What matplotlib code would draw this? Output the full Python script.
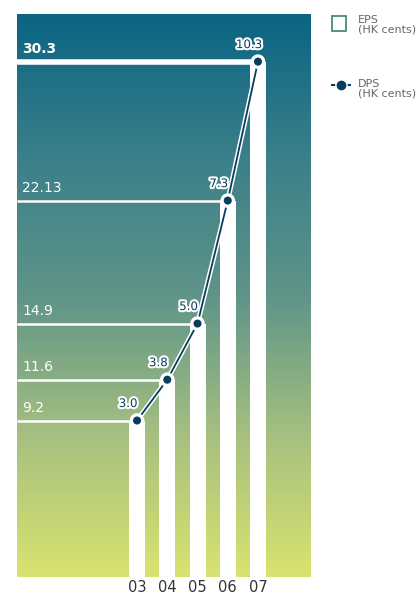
import matplotlib.pyplot as plt
import matplotlib.patheffects as pe
import numpy as np
from matplotlib.colors import LinearSegmentedColormap

years = ["03", "04", "05", "06", "07"]
eps = [9.2, 11.6, 14.9, 22.13, 30.3]
dps = [3.0, 3.8, 5.0, 7.3, 10.3]
eps_labels = ["9.2", "11.6", "14.9", "22.13", "30.3"]
dps_labels = ["3.0", "3.8", "5.0", "7.3", "10.3"]

navy = "#083d5e"
fig = plt.figure(figsize=(4.18, 5.95), dpi=100)
ax = fig.add_axes([17/418, 18/595, 293/418, 563/595])

x = np.arange(len(years))
xlim = (-3.97, 5.72)
ylim = (0, 33.1)

# gradient background
cmap = LinearSegmentedColormap.from_list(
    "bg", ["#d9e36f", "#a6c080", "#5f9488", "#3a7f8a", "#0b6482"])
grad = np.linspace(0, 1, 256).reshape(-1, 1)
ax.imshow(grad, cmap=cmap, origin="lower", aspect="auto",
          extent=[xlim[0], xlim[1], ylim[0], ylim[1]], zorder=0)

# EPS bars + reference lines
ax.bar(x, eps, width=0.53, color="white", zorder=2)
for i, v in enumerate(eps):
    lw = 4 if i == len(eps) - 1 else 1.8
    ax.plot([xlim[0], x[i]], [v, v], color="white", lw=lw,
            solid_capstyle="butt", zorder=2)
    ax.text(xlim[0] + 0.17, v + 0.35, eps_labels[i], color="white",
            fontsize=10, fontweight="bold" if i == len(eps) - 1 else "normal",
            ha="left", va="bottom", zorder=3)

# DPS line (markers sit on the bar tops)
ax.plot(x, eps, color=navy, lw=1.3, marker="o", ms=7, mec="white", mew=1.2,
        zorder=4, path_effects=[pe.Stroke(linewidth=3.5, foreground="white"), pe.Normal()])
for i, v in enumerate(eps):
    ax.text(x[i] - 0.3, v + 1.0, dps_labels[i], color=navy, fontsize=8.5,
            ha="center", va="center", zorder=5,
            path_effects=[pe.withStroke(linewidth=3, foreground="white")])

ax.set_xlim(xlim)
ax.set_ylim(ylim)
ax.set_yticks([])
ax.set_xticks(x)
ax.set_xticklabels(years, fontsize=10.5, color="#333333")
ax.tick_params(axis="x", length=0, pad=2)
for s in ax.spines.values():
    s.set_visible(False)

# legend
lax = fig.add_axes([0, 0, 1, 1], facecolor="none")
lax.set_xlim(0, 418)
lax.set_ylim(595, 0)
lax.axis("off")
lax.add_patch(plt.Rectangle((332, 16), 14, 15, fill=False, ec="#4a8a7a", lw=1.3))
lax.text(358, 15, "EPS\n(HK cents)", fontsize=8, color="#666666", va="top",
         linespacing=0.95)
lax.plot([331, 351], [85, 85], color=navy, ls=(0, (2, 2)), lw=1.5)
lax.plot([341], [85], "o", color=navy, ms=6)
lax.text(358, 79, "DPS\n(HK cents)", fontsize=8, color="#666666", va="top",
         linespacing=0.95)

fig.savefig("out.png", dpi=100)
